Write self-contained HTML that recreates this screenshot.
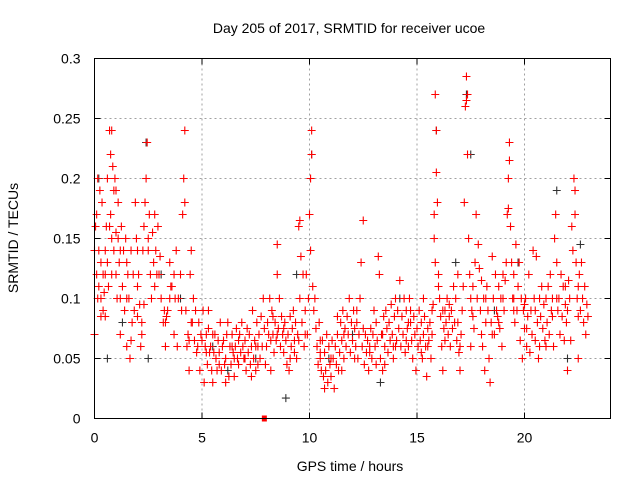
<!DOCTYPE html>
<html><head><meta charset="utf-8"><style>
body{margin:0;background:#fff;}
svg{display:block;font-family:"Liberation Sans",sans-serif;}
</style></head><body>
<svg id="chart" width="640" height="480" viewBox="0 0 640 480">
<rect width="640" height="480" fill="#fff"/>
<text x="349" y="33" font-size="14" text-anchor="middle" fill="#000">Day 205 of 2017, SRMTID for receiver ucoe</text>
<text transform="translate(18,238) rotate(-90)" font-size="14" text-anchor="middle">SRMTID / TECUs</text>
<text x="350" y="471" font-size="14" text-anchor="middle">GPS time / hours</text>
<g id="grid"></g>
<g id="ticks"></g>
<g id="marks"></g>
<rect x="94.5" y="58.5" width="516" height="360" fill="none" stroke="#000" stroke-width="1"/>
</svg>
<script>
const xTicks=[0,5,10,15,20];
const yTicks=[0,0.05,0.1,0.15,0.2,0.25,0.3];
const yTickLabels=["0","0.05","0.1","0.15","0.2","0.25","0.3"];
const blackPoints=[[0.2,0.2],[0.6,0.05],[1.3,0.08],[2.4,0.23],[2.5,0.05],[3.1,0.12],[4.0,0.1],[5.5,0.06],[6.2,0.04],[7.5,0.05],[8.9,0.017],[9.4,0.12],[10.1,0.22],[10.9,0.05],[12.0,0.07],[13.3,0.03],[14.2,0.1],[15.9,0.24],[16.8,0.13],[17.3,0.27],[17.5,0.22],[18.6,0.09],[19.7,0.13],[21.5,0.19],[22.0,0.05],[22.6,0.145]];
const redPoints=[
[0,0.14],[0,0.07],[0.05,0.16],[0.1,0.12],[0.1,0.17],[0.15,0.2],[0.15,0.1],[0.2,0.14],[0.2,0.11],[0.25,0.19],[0.3,0.13],[0.3,0.085],[0.35,0.18],[0.4,0.09],[0.4,0.12],[0.45,0.105],[0.5,0.14],[0.5,0.085],[0.55,0.16],[0.6,0.13],[0.6,0.2],[0.65,0.11],[0.7,0.24],[0.7,0.16],[0.75,0.17],[0.75,0.22],[0.8,0.24],[0.8,0.15],[0.85,0.21],[0.9,0.19],[0.9,0.14],[0.95,0.2],[1.0,0.19],[1.0,0.12],[1.05,0.1],[1.1,0.15],[1.1,0.18],[1.15,0.13],[1.2,0.07],[1.2,0.1],[1.25,0.16],[1.3,0.11],[1.35,0.14],[1.4,0.09],[1.45,0.15],[1.5,0.06],[1.5,0.13],[1.55,0.12],[1.6,0.1],[1.65,0.05],[1.7,0.14],[1.75,0.08],[1.8,0.12],[1.85,0.09],[1.9,0.18],[1.95,0.15],[2.0,0.14],[2.0,0.11],[2.05,0.12],[2.1,0.095],[2.15,0.06],[2.2,0.08],[2.2,0.07],[2.25,0.14],[2.3,0.16],[2.35,0.18],[2.4,0.2],[2.45,0.23],[2.5,0.15],[2.55,0.17],[2.6,0.12],[2.65,0.1],[2.7,0.155],[2.75,0.13],[2.8,0.17],[2.85,0.14],[2.9,0.12],[2.95,0.16],[3.0,0.12],[3.05,0.135],[3.1,0.1],[3.2,0.08],[3.25,0.09],[3.3,0.06],[3.35,0.085],[3.4,0.09],[3.5,0.13],[3.55,0.11],[3.6,0.11],[3.7,0.07],[3.75,0.1],[3.8,0.14],[3.85,0.06],[3.9,0.1],[4.0,0.12],[4.05,0.09],[4.1,0.17],[4.15,0.2],[4.2,0.24],[4.2,0.18],[4.25,0.09],[4.3,0.06],[4.35,0.07],[4.4,0.04],[4.45,0.12],[4.5,0.14],[4.55,0.08],[4.6,0.1],[4.65,0.065],[4.7,0.09],[4.75,0.055],[4.8,0.06],[4.85,0.08],[4.9,0.04],[4.95,0.07],
[5.0,0.065],[5.05,0.09],[5.1,0.03],[5.15,0.06],[5.2,0.07],[5.25,0.045],[5.3,0.09],[5.35,0.055],[5.4,0.06],[5.45,0.04],[5.5,0.03],[5.55,0.055],[5.6,0.07],[5.65,0.05],[5.7,0.04],[5.75,0.065],[5.8,0.055],[5.85,0.08],[5.9,0.04],[5.95,0.06],[6.0,0.065],[6.05,0.045],[6.1,0.05],[6.15,0.07],[6.2,0.08],[6.25,0.035],[6.3,0.06],[6.35,0.045],[6.4,0.07],[6.45,0.055],[6.5,0.035],[6.55,0.06],[6.6,0.075],[6.65,0.05],[6.7,0.045],[6.75,0.07],[6.8,0.055],[6.85,0.08],[6.9,0.06],[6.95,0.05],[7.0,0.065],[7.05,0.04],[7.1,0.075],[7.15,0.055],[7.2,0.07],[7.25,0.045],[7.3,0.06],[7.35,0.09],[7.4,0.05],[7.45,0.065],[7.5,0.04],[7.55,0.08],[7.6,0.06],[7.65,0.07],[7.7,0.05],[7.75,0.085],[7.8,0.06],[7.85,0.1],[7.9,0.075],[7.95,0.045],[8.0,0.06],[8.05,0.08],[8.1,0.07],[8.15,0.1],[8.2,0.065],[8.25,0.09],[8.3,0.07],[8.35,0.055],[8.4,0.08],[8.45,0.065],[8.5,0.145],[8.5,0.12],[8.55,0.075],[8.6,0.1],[8.65,0.06],[8.7,0.085],[8.75,0.07],[8.8,0.055],[8.85,0.08],[8.9,0.065],[8.95,0.045],[9.0,0.07],[9.05,0.04],[9.1,0.085],[9.15,0.06],[9.2,0.075],[9.25,0.09],[9.3,0.065],[9.35,0.08],[9.4,0.05],[9.45,0.07],[9.5,0.16],[9.55,0.165],[9.55,0.1],[9.6,0.135],[9.65,0.08],[9.7,0.12],[9.75,0.06],[9.8,0.09],[9.85,0.12],[9.9,0.07],[9.95,0.1],[10.0,0.17],[10.05,0.14],[10.05,0.2],[10.1,0.24],[10.1,0.22],[10.15,0.11],[10.2,0.09],[10.25,0.1],[10.3,0.075],[10.35,0.06],[10.4,0.045],[10.45,0.08],[10.5,0.05],[10.55,0.04],[10.6,0.065],[10.65,0.035],[10.7,0.055],[10.75,0.04],[10.8,0.07],[10.85,0.03],[10.9,0.06],[10.95,0.045],[11.0,0.035],[11.05,0.065],[11.1,0.05],[11.15,0.025],[11.2,0.06],[11.25,0.045],[11.3,0.07],[11.35,0.04],[11.4,0.055],[11.45,0.08],[11.5,0.065],[11.55,0.09],[11.6,0.05],[11.65,0.075],[11.7,0.06],[11.75,0.085],[11.8,0.07],[11.85,0.1],[11.9,0.055],[11.95,0.08],[12.0,0.065],[12.05,0.09],[12.1,0.075],[12.15,0.06],[12.2,0.08],[12.25,0.05],[12.3,0.07],[12.35,0.1],[12.4,0.13],[12.45,0.06],[12.5,0.165],[12.55,0.045],[12.6,0.07],[12.65,0.055],[12.7,0.065],[12.75,0.04],[12.8,0.06],[12.85,0.075],[12.9,0.05],[12.95,0.07],[13.0,0.09],[13.05,0.06],[13.1,0.08],[13.15,0.065],[13.2,0.135],[13.25,0.12],[13.3,0.05],[13.35,0.07],[13.4,0.04],[13.45,0.085],[13.5,0.06],[13.55,0.09],[13.6,0.075],[13.65,0.055],[13.7,0.08],[13.75,0.065],[13.8,0.095],[13.85,0.07],[13.9,0.06],[13.95,0.085],[14.0,0.1],[14.05,0.065],[14.1,0.09],[14.15,0.075],[14.2,0.115],[14.25,0.06],[14.3,0.085],[14.35,0.07],[14.4,0.1],[14.45,0.055],[14.5,0.09],[14.55,0.075],[14.6,0.06],[14.65,0.1],[14.7,0.08],[14.75,0.065],[14.8,0.05],[14.85,0.085],[14.9,0.07],[14.95,0.04],[15.0,0.075],[15.05,0.06],[15.1,0.09],[15.15,0.065],[15.2,0.08],[15.25,0.05],[15.3,0.07],[15.35,0.085],[15.4,0.06],[15.45,0.035],[15.5,0.075],[15.55,0.065],[15.6,0.08],[15.65,0.05],[15.7,0.09],[15.75,0.095],[15.8,0.15],[15.8,0.17],[15.85,0.27],[15.85,0.13],[15.9,0.24],[15.9,0.205],[15.95,0.18],[16.0,0.12],[16.0,0.11],[16.05,0.1],[16.1,0.085],[16.15,0.06],[16.2,0.04],[16.25,0.075],[16.3,0.065],[16.35,0.08],[16.4,0.1],[16.45,0.07],[16.5,0.085],[16.55,0.06],[16.6,0.09],[16.65,0.075],[16.7,0.11],[16.75,0.08],[16.8,0.1],[16.85,0.065],[16.9,0.12],[16.95,0.055],[17.0,0.04],[17.05,0.07],[17.1,0.09],[17.15,0.11],[17.2,0.18],[17.25,0.26],[17.3,0.285],[17.3,0.265],[17.35,0.27],[17.35,0.22],[17.4,0.15],[17.45,0.12],[17.5,0.1],[17.55,0.09],[17.6,0.11],[17.65,0.075],[17.7,0.13],[17.75,0.17],[17.8,0.1],[17.85,0.145],[17.9,0.125],[17.95,0.09],[18.0,0.115],[18.05,0.06],[18.1,0.1],[18.15,0.04],[18.2,0.08],[18.25,0.11],[18.3,0.09],[18.35,0.05],[18.4,0.03],[18.45,0.08],[18.5,0.135],[18.55,0.1],[18.6,0.07],[18.65,0.12],[18.7,0.09],[18.75,0.085],[18.8,0.11],[18.85,0.075],[18.9,0.1],[18.95,0.06],[19.0,0.12],[19.05,0.09],[19.1,0.115],[19.15,0.13],[19.2,0.17],[19.25,0.2],[19.25,0.175],[19.3,0.23],[19.3,0.215],[19.35,0.16],[19.4,0.13],[19.45,0.1],[19.5,0.12],[19.55,0.08],[19.6,0.145],[19.65,0.09],[19.7,0.11],[19.75,0.13],[19.8,0.065],[19.85,0.1],[19.9,0.05],[19.95,0.09],[20.0,0.075],[20.05,0.1],[20.1,0.06],[20.15,0.085],[20.2,0.12],[20.25,0.055],[20.3,0.09],[20.35,0.07],[20.4,0.14],[20.45,0.1],[20.5,0.065],[20.55,0.135],[20.6,0.08],[20.65,0.05],[20.7,0.1],[20.75,0.085],[20.8,0.11],[20.85,0.075],[20.9,0.095],[20.95,0.065],[21.0,0.1],[21.05,0.08],[21.1,0.11],[21.15,0.07],[21.2,0.12],[21.25,0.09],[21.3,0.1],[21.35,0.06],[21.4,0.15],[21.45,0.17],[21.5,0.13],[21.55,0.09],[21.6,0.1],[21.65,0.07],[21.7,0.12],[21.75,0.085],[21.8,0.11],[21.85,0.065],[21.9,0.095],[21.95,0.08],[22.0,0.04],[22.05,0.115],[22.1,0.1],[22.15,0.065],[22.2,0.16],[22.25,0.14],[22.3,0.2],[22.35,0.19],[22.35,0.17],[22.4,0.13],[22.45,0.1],[22.5,0.05],[22.55,0.12],[22.6,0.09],[22.65,0.13],[22.7,0.1],[22.75,0.08],[22.8,0.11],[22.85,0.07],[22.9,0.095],[22.95,0.085],
[0.3,0.1],[0.8,0.12],[1.2,0.14],[1.7,0.065],[2.3,0.095],[2.8,0.11],[3.3,0.08],[3.7,0.12],[4.4,0.065],[5.2,0.055],[5.8,0.045],[6.4,0.06],[7.0,0.05],[7.6,0.045],[8.3,0.085],[8.8,0.075],[9.3,0.055],[9.8,0.07],[10.5,0.065],[11.0,0.05],[11.6,0.07],[12.2,0.09],[12.8,0.055],[13.4,0.07],[14.0,0.06],[14.6,0.08],[15.2,0.055],[15.7,0.07],[16.3,0.09],[16.9,0.08],[17.6,0.085],[18.2,0.1],[18.8,0.08],[19.5,0.09],[20.1,0.075],[20.7,0.06],[21.3,0.085],[21.9,0.11],[22.5,0.085],
[0.5,0.12],[1.0,0.155],[1.5,0.1],[2.0,0.085],[2.5,0.14],[3.5,0.1],[4.5,0.08],[5.5,0.07],[6.5,0.05],[7.5,0.06],[8.5,0.07],[9.5,0.065],[10.5,0.055],[11.5,0.04],[12.5,0.075],[13.5,0.045],[14.5,0.065],[15.5,0.06],[16.5,0.095],[17.5,0.06],[18.5,0.07],[19.5,0.1],[20.5,0.09],[21.5,0.1],[22.5,0.11],
[5.3,0.075],[6.1,0.03],[6.7,0.065],[7.3,0.035],[8.2,0.04],[9.1,0.05],[10.7,0.025],[11.3,0.085],[12.1,0.05],[13.1,0.045],[13.9,0.05],[14.7,0.09],[15.3,0.1],[16.2,0.09],[17.0,0.06],[18.0,0.07],[19.0,0.1],[20.0,0.095],[21.0,0.06],[22.0,0.09]];
const squarePoints=[[7.9,0.0]];
const NS='http://www.w3.org/2000/svg';
const L=94.5,R=610.5,T=58.5,B=418.5;
function sx(h){return L+h/24*(R-L);}
function sy(v){return B-v/0.3*(B-T);}
const grid=document.getElementById('grid'),ticks=document.getElementById('ticks'),marks=document.getElementById('marks');
function line(p,x1,y1,x2,y2,st,dash){const l=document.createElementNS(NS,'line');l.setAttribute('x1',x1);l.setAttribute('y1',y1);l.setAttribute('x2',x2);l.setAttribute('y2',y2);l.setAttribute('stroke',st);if(dash)l.setAttribute('stroke-dasharray',dash);p.appendChild(l);return l;}
xTicks.forEach(t=>{const x=sx(t);
if(t>0){const g=line(grid,x,T,x,B,'#a0a0a0','2,3');

}
line(ticks,x,B,x,B-6,'#000');line(ticks,x,T,x,T+6,'#000');
const tx=document.createElementNS(NS,'text');tx.setAttribute('x',x);tx.setAttribute('y',B+24);tx.setAttribute('font-size','14');tx.setAttribute('text-anchor','middle');tx.textContent=t;


ticks.appendChild(tx);});
yTicks.forEach((t,i)=>{const y=sy(t);
if(t>0&&t<0.3){const g=line(grid,L,y,R,y,'#a0a0a0','2,3');

}
line(ticks,L,y,L+6,y,'#000');line(ticks,R,y,R-6,y,'#000');
const tx=document.createElementNS(NS,'text');tx.setAttribute('x',L-14);tx.setAttribute('y',y+5);tx.setAttribute('font-size','14');tx.setAttribute('text-anchor','end');tx.textContent=yTickLabels[i];


ticks.appendChild(tx);});
function cross(h,v,c){const x=sx(h),y=sy(v);const p=document.createElementNS(NS,'path');
p.setAttribute('d',`M${x-4},${y}H${x+4}M${x},${y-4}V${y+4}`);p.setAttribute('stroke',c);p.setAttribute('stroke-width','1.1');marks.appendChild(p);return p;}
blackPoints.forEach(d=>{const p=cross(d[0],d[1],'#333');

});
redPoints.forEach(d=>{const p=cross(d[0],d[1],'#f00');

});
squarePoints.forEach(d=>{const r=document.createElementNS(NS,'rect');
r.setAttribute('x',sx(d[0])-2.5);r.setAttribute('y',sy(d[1])-3);r.setAttribute('width',5);r.setAttribute('height',6);r.setAttribute('fill','#f00');


marks.appendChild(r);});
</script>
</body></html>
